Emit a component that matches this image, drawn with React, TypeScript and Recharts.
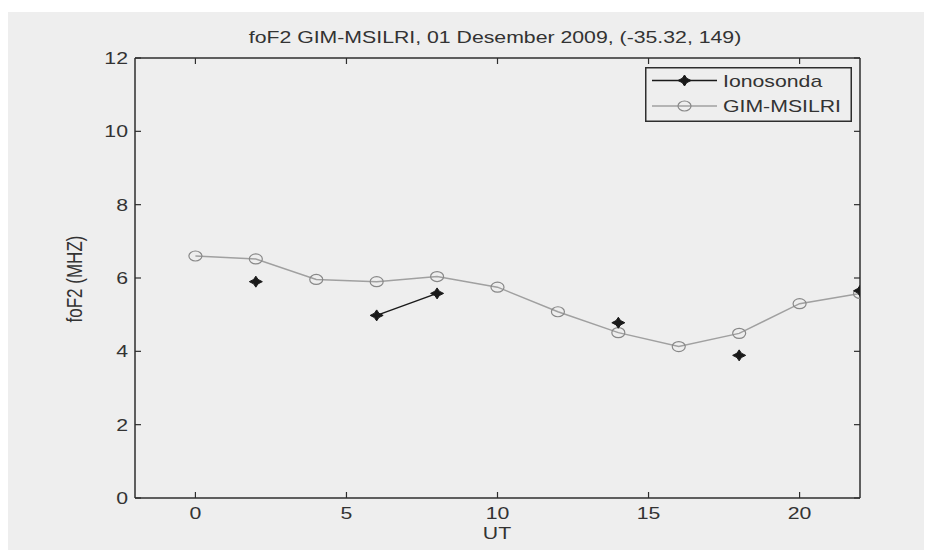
import React from 'react';
import { LineChart, Line, XAxis, YAxis, Legend } from 'recharts';

// ---- data ----
const hoursUT = [0, 2, 4, 6, 8, 10, 12, 14, 16, 18, 20, 22];
const gimMsilri = [6.6, 6.52, 5.96, 5.9, 6.04, 5.75, 5.08, 4.51, 4.13, 4.49, 5.3, 5.58];
const ionosonda: (number | null)[] = [null, 5.9, null, 4.98, 5.58, null, null, 4.78, null, 3.89, null, 5.65];
const xTicks = [0, 5, 10, 15, 20];
const yTicks = [0, 2, 4, 6, 8, 10, 12];
const seriesNames = ['Ionosonda', 'GIM-MSILRI'];
const titleText = 'foF2 GIM-MSILRI, 01 Desember 2009, (-35.32, 149)';
const xLabel = 'UT';
const yLabel = 'foF2 (MHZ)';

const data = hoursUT.map((h, i) => ({ ut: h, gim: gimMsilri[i], iono: ionosonda[i] }));

// ---- styles ----
const BG = '#eeeeee';
const AXIS = '#2e2e2e';
const TEXT = '#333333';
const GIM_LINE = '#a0a0a0';
const GIM_MARK = '#888888';
const IONO = '#1a1a1a';
const FONT = '"Liberation Sans", Arial, sans-serif';
const FS = 17;
const SX = 1.25;
const TICK = 6;

const Star = ({ cx, cy }: any) => {
  if (cx == null || cy == null || isNaN(cx) || isNaN(cy)) return null;
  const rx = 6.5;
  const ry = 5.5;
  const d = 2.2;
  return (
    <g fill={IONO} stroke={IONO} strokeWidth={1}>
      <path
        d={`M${cx - rx},${cy} L${cx - d},${cy - d} L${cx},${cy - ry} L${cx + d},${cy - d} L${cx + rx},${cy} L${cx + d},${cy + d} L${cx},${cy + ry} L${cx - d},${cy + d} Z`}
      />
    </g>
  );
};

const Ring = ({ cx, cy }: any) => {
  if (cx == null || cy == null || isNaN(cx) || isNaN(cy)) return null;
  return <ellipse cx={cx} cy={cy} rx={6.5} ry={5} fill="none" stroke={GIM_MARK} strokeWidth={1.2} />;
};

const LeftTick = ({ x, y, payload }: any) => (
  <g>
    <line x1={x + 7} y1={y} x2={x + 7 + TICK} y2={y} stroke={AXIS} strokeWidth={1.2} />
    <text
      transform={`translate(${x},${y}) scale(${SX},1)`}
      textAnchor="end"
      dy="0.36em"
      fontSize={FS}
      fontFamily={FONT}
      fill={TEXT}
    >
      {payload.value}
    </text>
  </g>
);

const BottomTick = ({ x, y, payload }: any) => (
  <g>
    <line x1={x} y1={y} x2={x} y2={y - TICK} stroke={AXIS} strokeWidth={1.2} />
    <text
      transform={`translate(${x},${y + 15}) scale(${SX},1)`}
      textAnchor="middle"
      dy="0.36em"
      fontSize={FS}
      fontFamily={FONT}
      fill={TEXT}
    >
      {payload.value}
    </text>
  </g>
);

const TopTick = ({ x, y }: any) => (
  <line x1={x} y1={y} x2={x} y2={y + TICK} stroke={AXIS} strokeWidth={1.2} />
);

const RightTick = ({ x, y }: any) => (
  <line x1={x} y1={y} x2={x - TICK} y2={y} stroke={AXIS} strokeWidth={1.2} />
);

const LegendBox = () => {
  const rows = [
    { name: seriesNames[0], y: 13.5, line: IONO, mark: 'star' },
    { name: seriesNames[1], y: 39, line: GIM_LINE, mark: 'ring' },
  ];
  return (
    <svg width={207} height={55} style={{ display: 'block' }}>
      <rect x={0.75} y={0.75} width={205.5} height={53.5} fill={BG} stroke={AXIS} strokeWidth={1.5} />
      {rows.map((r) => (
        <g key={r.name}>
          <line x1={7} y1={r.y} x2={72} y2={r.y} stroke={r.line} strokeWidth={1.5} />
          {r.mark === 'star' ? <Star cx={39.5} cy={r.y} /> : <Ring cx={39.5} cy={r.y} />}
          <text
            transform={`translate(78,${r.y}) scale(${SX},1)`}
            dy="0.36em"
            fontSize={FS}
            fontFamily={FONT}
            fill={TEXT}
          >
            {r.name}
          </text>
        </g>
      ))}
    </svg>
  );
};

export default function App() {
  const W = 924;
  const H = 538;
  return (
    <div style={{ position: 'relative', width: W, height: H, marginTop: 4, background: BG, fontFamily: FONT }}>
      <LineChart
        width={W}
        height={H}
        data={data}
        margin={{ top: 36, right: 62, bottom: 12, left: 0 }}
        style={{ background: BG }}
      >
        <XAxis
          xAxisId="b"
          dataKey="ut"
          type="number"
          domain={[-2, 22]}
          ticks={xTicks}
          allowDataOverflow
          height={40}
          tickSize={0}
          tickMargin={0}
          tickLine={false}
          axisLine={{ stroke: AXIS, strokeWidth: 1.5 }}
          tick={<BottomTick />}
        />
        <XAxis
          xAxisId="t"
          orientation="top"
          dataKey="ut"
          type="number"
          domain={[-2, 22]}
          ticks={xTicks}
          allowDataOverflow
          height={10}
          tickSize={0}
          tickMargin={0}
          tickLine={false}
          axisLine={{ stroke: AXIS, strokeWidth: 1.5 }}
          tick={<TopTick />}
        />
        <YAxis
          yAxisId="l"
          type="number"
          domain={[0, 12]}
          ticks={yTicks}
          allowDataOverflow
          width={127}
          tickSize={0}
          tickMargin={7}
          tickLine={false}
          axisLine={{ stroke: AXIS, strokeWidth: 1.5 }}
          tick={<LeftTick />}
        />
        <YAxis
          yAxisId="r"
          orientation="right"
          type="number"
          domain={[0, 12]}
          ticks={yTicks}
          allowDataOverflow
          width={10}
          tickSize={0}
          tickMargin={0}
          tickLine={false}
          axisLine={{ stroke: AXIS, strokeWidth: 1.5 }}
          tick={<RightTick />}
        />
        <Line
          xAxisId="b"
          yAxisId="l"
          dataKey="gim"
          name={seriesNames[1]}
          stroke={GIM_LINE}
          strokeWidth={1.5}
          dot={<Ring />}
          activeDot={false}
          isAnimationActive={false}
        />
        <Line
          xAxisId="b"
          yAxisId="l"
          dataKey="iono"
          name={seriesNames[0]}
          stroke={IONO}
          strokeWidth={1.5}
          dot={<Star />}
          activeDot={false}
          connectNulls={false}
          isAnimationActive={false}
        />
        <Legend
          layout="vertical"
          align="center"
          verticalAlign="middle"
          content={() => <LegendBox />}
          wrapperStyle={{ position: 'absolute', left: 637, top: 54.5, width: 207, height: 55 }}
        />
      </LineChart>
      <div
        style={{
          position: 'absolute',
          left: 0,
          width: 974,
          top: 16,
          textAlign: 'center',
          fontSize: FS,
          lineHeight: '20px',
          color: TEXT,
          transform: `scale(${SX},1)`,
          transformOrigin: '487px 0',
          whiteSpace: 'nowrap',
          pointerEvents: 'none',
        }}
      >
        {titleText}
      </div>
      <div
        style={{
          position: 'absolute',
          left: 68,
          top: 267,
          fontSize: FS,
          lineHeight: '20px',
          color: TEXT,
          whiteSpace: 'nowrap',
          transform: `translate(-50%,-50%) rotate(-90deg) scale(1,${SX})`,
        }}
      >
        {yLabel}
      </div>
      <div
        style={{
          position: 'absolute',
          left: 489,
          top: 522,
          fontSize: FS,
          lineHeight: '20px',
          color: TEXT,
          whiteSpace: 'nowrap',
          transform: `translate(-50%,-50%) scale(${SX},1)`,
        }}
      >
        {xLabel}
      </div>
    </div>
  );
}
